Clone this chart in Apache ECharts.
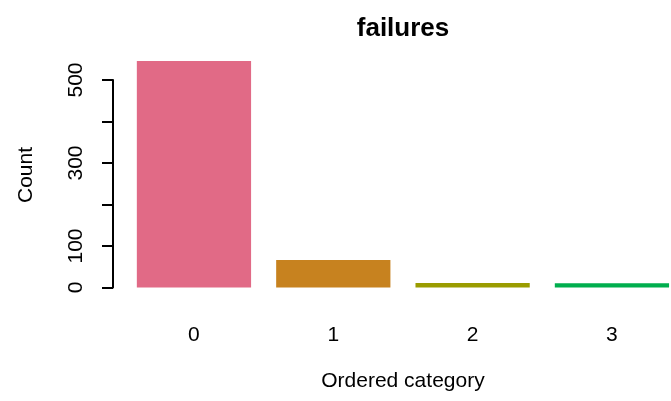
<!DOCTYPE html>
<html>
<head>
<meta charset="utf-8">
<script src="https://cdn.jsdelivr.net/npm/echarts@6/dist/echarts.min.js"></script>
<style>html,body{margin:0;padding:0;background:#fff}#c{width:671px;height:401px}</style>
</head>
<body>
<div id="c"></div>
<script>
const categories = ['0', '1', '2', '3'];
const counts = [546, 66, 11, 10];
const barColors = ['#E16A86', '#C7821F', '#9A9C00', '#00AE4E'];
const yTicks = [0, 100, 200, 300, 400, 500];
const yShownLabels = [0, 100, 300, 500];
const titleText = 'failures';
const xTitle = 'Ordered category';
const yTitle = 'Count';

const chart = echarts.init(document.getElementById('c'), null, {renderer: 'canvas'});
const font = 'Liberation Sans, Arial, sans-serif';
chart.setOption({
  animation: false,
  backgroundColor: '#fff',
  title: {
    text: titleText, left: 398, top: 11, textAlign: 'center',
    textStyle: {fontFamily: font, fontSize: 26, fontWeight: 'bold', color: '#000'}
  },
  grid: {left: 124.3, top: 80, width: 557.3, height: 207.5, containLabel: false, outerBoundsMode: 'none'},
  xAxis: {
    type: 'category', data: categories,
    axisLine: {show: false}, axisTick: {show: false},
    axisLabel: {margin: 37, fontFamily: font, fontSize: 21, color: '#000'},
    name: xTitle, nameLocation: 'middle', nameGap: 83,
    nameTextStyle: {fontFamily: font, fontSize: 21, color: '#000'}
  },
  yAxis: {
    type: 'value', min: yTicks[0], max: yTicks[yTicks.length - 1], interval: 100,
    offset: 11.3,
    splitLine: {show: false},
    axisLine: {show: true, lineStyle: {color: '#000', width: 2}},
    axisTick: {show: true, length: 11, lineStyle: {color: '#000', width: 2}},
    axisLabel: {
      rotate: 90, margin: 26, fontFamily: font, fontSize: 21, color: '#000',
      formatter: v => yShownLabels.includes(v) ? String(v) : ''
    }
  },
  graphic: [{
    type: 'text', x: 26.5, y: 175, rotation: Math.PI / 2,
    style: {text: yTitle, font: '21px ' + font, fill: '#000', align: 'center', verticalAlign: 'middle'}
  }],
  series: [{
    type: 'bar', clip: false, barWidth: '82%',
    data: counts.map((v, i) => ({value: v, itemStyle: {color: barColors[i]}}))
  }]
});
</script>
</body>
</html>
